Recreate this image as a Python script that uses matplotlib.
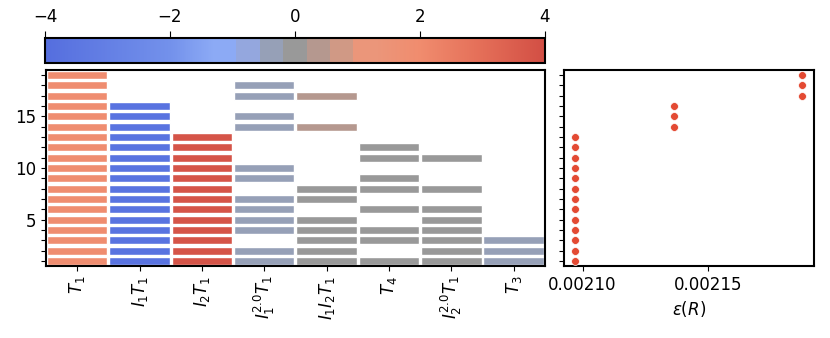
import matplotlib
matplotlib.use('Agg')
import matplotlib.pyplot as plt
import numpy as np
from matplotlib.colors import ListedColormap, Normalize
from matplotlib.cm import ScalarMappable

# features (columns) and the models (rows) that use them
features = ["$T_1$", "$I_1T_1$", "$I_2T_1$", "$I_1^{2.0}T_1$",
            "$I_1I_2T_1$", "$T_4$", "$I_2^{2.0}T_1$", "$T_3$"]

rows_T1 = list(range(1, 20))
coef_T1 = [1.9] * 19
rows_I1T1 = list(range(1, 17))
coef_I1T1 = [-3.7] * 16
rows_I2T1 = list(range(1, 14))
coef_I2T1 = [3.8] * 13
rows_I1sqT1 = [1, 2, 4, 5, 6, 7, 9, 10, 14, 15, 17, 18]
coef_I1sqT1 = [-0.35] * 12
rows_I1I2T1 = [1, 2, 3, 4, 5, 7, 8, 14, 17]
coef_I1I2T1 = [0.05, 0.05, 0.05, 0.05, 0.05, 0.05, 0.05, 0.38, 0.38]
rows_T4 = [1, 3, 4, 6, 8, 9, 11, 12]
coef_T4 = [0.05] * 8
rows_I2sqT1 = [1, 2, 3, 4, 5, 6, 8, 11]
coef_I2sqT1 = [0.05] * 8
rows_T3 = [1, 2, 3]
coef_T3 = [-0.35] * 3

all_rows = [rows_T1, rows_I1T1, rows_I2T1, rows_I1sqT1,
            rows_I1I2T1, rows_T4, rows_I2sqT1, rows_T3]
all_coefs = [coef_T1, coef_I1T1, coef_I2T1, coef_I1sqT1,
             coef_I1I2T1, coef_T4, coef_I2sqT1, coef_T3]

# model error per row
model_rows = list(range(1, 20))
eps = [0.0020971] * 13 + [0.0021364] * 3 + [0.0021876] * 3

# colormap: smooth blue / red outside, stepped grey fade near zero
step = 0.373
faded = {-3: (140, 170, 245), -2: (148, 167, 222), -1: (150, 160, 183),
         0: (153, 153, 153), 1: (181, 152, 143), 2: (208, 153, 133),
         3: (235, 150, 122)}
anchor_v = [-4, -2, -1.3, 1.3, 2, 3, 4]
anchor_c = np.array([(85, 110, 222), (115, 145, 235), (140, 170, 245),
                     (235, 150, 122), (240, 140, 110), (228, 110, 88),
                     (210, 78, 68)]) / 255.0
vals = np.linspace(-4, 4, 512)
cols = []
for v in vals:
    k = int(np.round(v / step))
    if abs(k) <= 3:
        cols.append(np.array(faded[k]) / 255.0)
    else:
        cols.append([np.interp(v, anchor_v, anchor_c[:, j]) for j in range(3)])
cmap = ListedColormap(cols)
norm = Normalize(-4, 4)

fig = plt.figure(figsize=(8.3, 3.38), dpi=100)
ax = fig.add_axes([0.0554, 0.213, 0.601, 0.580])
cax = fig.add_axes([0.0542, 0.814, 0.602, 0.074])
ax2 = fig.add_axes([0.6795, 0.213, 0.301, 0.580])

for i, (r, c) in enumerate(zip(all_rows, all_coefs)):
    ax.barh(r, 0.97, left=i - 0.485, height=0.78,
            color=cmap(norm(np.array(c))), edgecolor='white', linewidth=1)

ax.set_xlim(-0.5, 7.5)
ax.set_ylim(0.5, 19.5)
ax.set_xticks(range(len(features)))
ax.set_xticklabels(features, rotation=90, fontsize=12)
ax.set_yticks(range(1, 20))
ax.set_yticklabels([str(y) if y % 5 == 0 else "" for y in range(1, 20)], fontsize=12)

cb = fig.colorbar(ScalarMappable(norm=norm, cmap=cmap), cax=cax,
                  orientation='horizontal', ticks=[-4, -2, 0, 2, 4])
cax.xaxis.set_ticks_position('top')
cax.tick_params(labelsize=12, length=5)

ax2.scatter(eps, model_rows, s=32, color='#e34a33', edgecolor='white', linewidth=0.5, zorder=3)
ax2.set_ylim(0.5, 19.5)
ax2.set_yticks(range(1, 20))
ax2.set_yticklabels([])
ax2.set_xticks([0.00210, 0.00215])
ax2.set_xticklabels(["0.00210", "0.00215"], fontsize=12)
ax2.set_xlabel(r"$\epsilon(R)$", fontsize=12)

for a in [ax, ax2, cax]:
    for s in a.spines.values():
        s.set_linewidth(1.5)
cb.outline.set_linewidth(1.5)

fig.savefig('out.png', dpi=100)
